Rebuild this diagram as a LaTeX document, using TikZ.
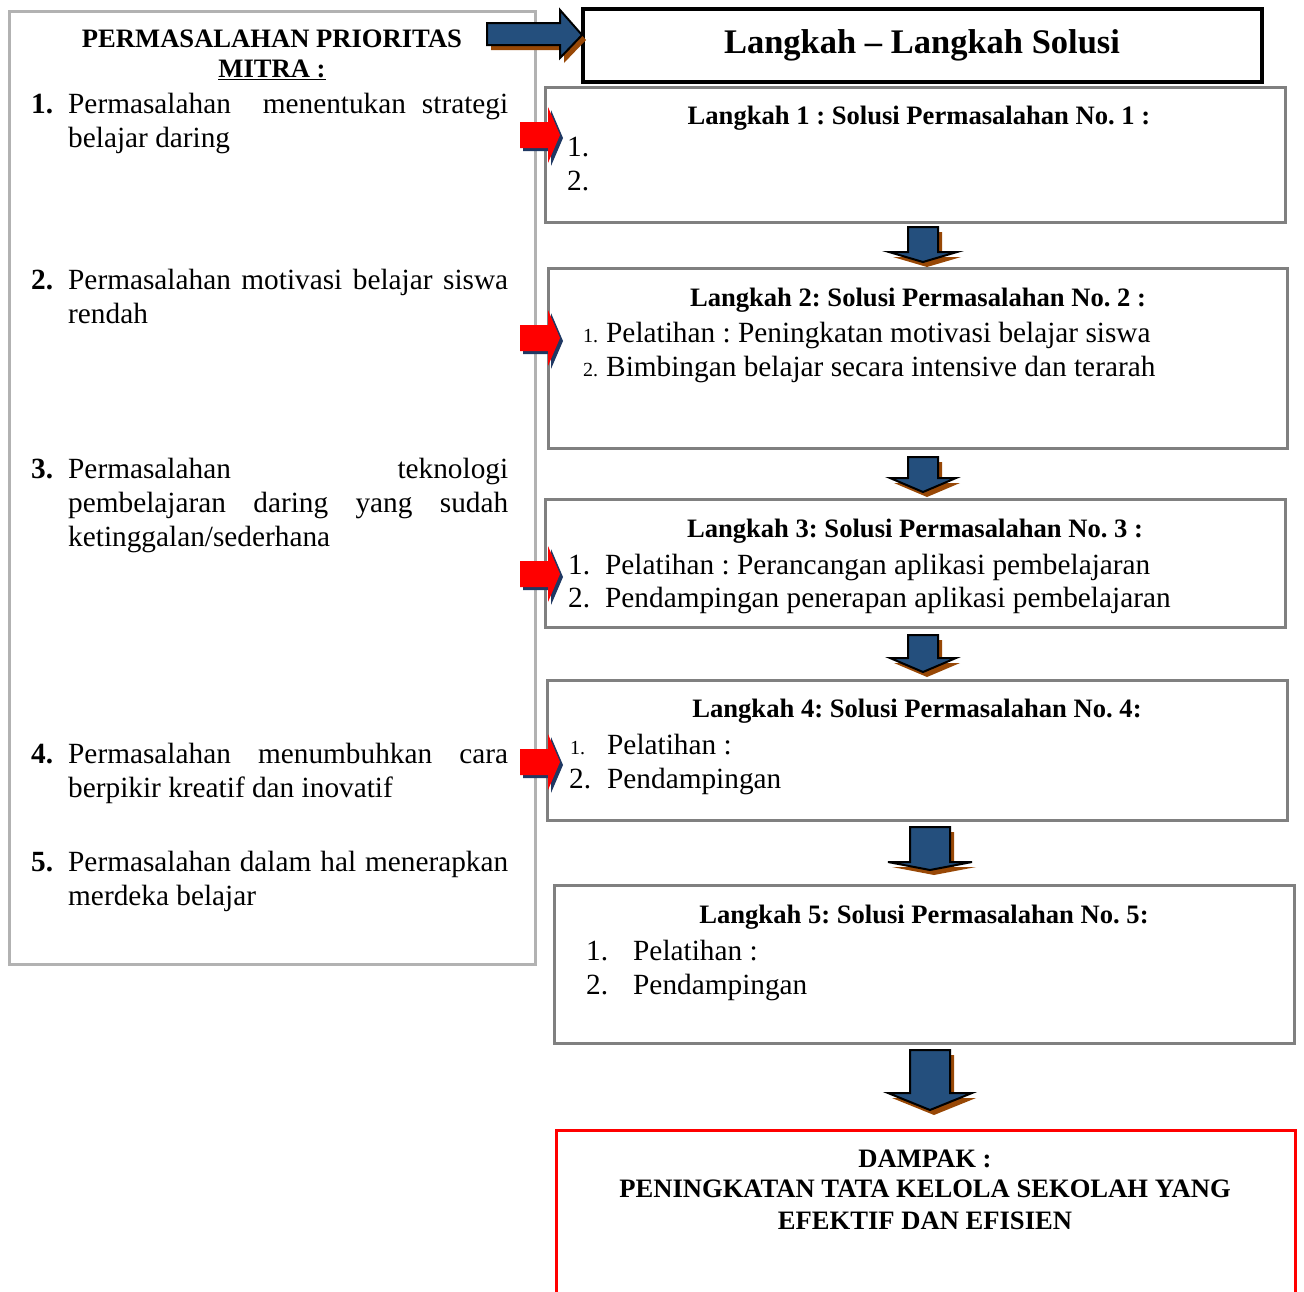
\documentclass[tikz,border=0pt]{standalone}
\usepackage{fontspec}
\setmainfont{Liberation Serif}
\frenchspacing
\definecolor{arrowblue}{RGB}{36,79,125}
\definecolor{shadowbrown}{RGB}{152,72,6}
\definecolor{shadowblue}{RGB}{31,56,99}
\definecolor{framegray}{RGB}{128,128,128}
\definecolor{lightframe}{RGB}{178,178,178}

\begin{document}
\begin{tikzpicture}[x=1pt, y=-1pt,
    leftbox/.style={draw=lightframe, line width=3pt, anchor=north west, inner sep=0pt, outer sep=0pt},
    solbox/.style={draw=framegray, line width=3pt, anchor=north west, inner sep=0pt, outer sep=0pt},
    headbox/.style={draw=black, line width=3.5pt, anchor=north west, inner sep=0pt, outer sep=0pt},
    body/.style={inner sep=0pt, anchor=base west, font=\fontsize{29.3}{34}\selectfont},
    numb/.style={inner sep=0pt, anchor=base west, font=\fontsize{29.3}{34}\selectfont\bfseries},
    boxtitle/.style={inner sep=0pt, anchor=base, font=\fontsize{26.6}{30.6}\selectfont\bfseries}]
    \useasboundingbox (0,0) rectangle (1304,1291);

    % Priority problems
    \node[leftbox, minimum width=526, minimum height=953] (masalah) at (9,11) {};
    \node[boxtitle] (mtitle1) at (272,47) {PERMASALAHAN PRIORITAS};
    \node[boxtitle] (mtitle2) at (272,77) {\underline{MITRA :}};

    \node[numb] (n1) at (31,113) {1.};
    \node[body, text width=440, align=justify] (p1) at (68,113) {Permasalahan \ menentukan strategi \linebreak belajar daring};
    \node[numb] (n2) at (31,289) {2.};
    \node[body, text width=440, align=justify] (p2) at (68,289) {Permasalahan motivasi belajar siswa \linebreak rendah};
    \node[numb] (n3) at (31,478) {3.};
    \node[body, text width=440, align=justify] (p3) at (68,478) {Permasalahan \hfill teknologi \linebreak pembelajaran daring yang sudah \linebreak ketinggalan/sederhana};
    \node[numb] (n4) at (31,763) {4.};
    \node[body, text width=440, align=justify] (p4) at (68,763) {Permasalahan menumbuhkan cara \linebreak berpikir kreatif dan inovatif};
    \node[numb] (n5) at (31,871) {5.};
    \node[body, text width=440, align=justify] (p5) at (68,871) {Permasalahan dalam hal menerapkan \linebreak merdeka belajar};

    % Solution steps
    \node[headbox, minimum width=679, minimum height=73] (judul) at (583,9) {};
    \node[inner sep=0pt, anchor=base, font=\fontsize{34.5}{40}\selectfont\bfseries] (judultxt) at (922,53) {Langkah -- Langkah Solusi};

    \node[solbox, minimum width=740, minimum height=135] (box1) at (545,87) {};
    \node[boxtitle] (t1) at (919,124) {Langkah 1 : Solusi Permasalahan No. 1 :};
    \node[body] (s1a) at (567,156) {1.};
    \node[body] (s1b) at (567,190) {2.};

    \node[solbox, minimum width=739, minimum height=180] (box2) at (548,268) {};
    \node[boxtitle] (t2) at (918,306) {Langkah 2: Solusi Permasalahan No. 2 :};
    \node[body] (s2a) at (583,342) {\makebox[23pt][l]{\fontsize{20}{24}\selectfont 1.}Pelatihan : Peningkatan motivasi belajar siswa};
    \node[body] (s2b) at (583,376) {\makebox[23pt][l]{\fontsize{20}{24}\selectfont 2.}Bimbingan belajar secara intensive dan terarah};

    \node[solbox, minimum width=740, minimum height=128] (box3) at (545,499) {};
    \node[boxtitle] (t3) at (915,537) {Langkah 3: Solusi Permasalahan No. 3 :};
    \node[body] (s3a) at (568,574) {\makebox[37pt][l]{1.}Pelatihan : Perancangan aplikasi pembelajaran};
    \node[body] (s3b) at (568,607) {\makebox[37pt][l]{2.}Pendampingan penerapan aplikasi pembelajaran};

    \node[solbox, minimum width=740, minimum height=140] (box4) at (547,680) {};
    \node[boxtitle] (t4) at (917,717) {Langkah 4: Solusi Permasalahan No. 4:};
    \node[body] (s4a) at (570,754) {\makebox[37pt][l]{\fontsize{20}{24}\selectfont 1.}Pelatihan :};
    \node[body] (s4b) at (569,788) {\makebox[38pt][l]{2.}Pendampingan};

    \node[solbox, minimum width=740, minimum height=158] (box5) at (554,885) {};
    \node[boxtitle] (t5) at (924,923) {Langkah 5: Solusi Permasalahan No. 5:};
    \node[body] (s5a) at (586,960) {\makebox[47pt][l]{1.}Pelatihan :};
    \node[body] (s5b) at (586,994) {\makebox[47pt][l]{2.}Pendampingan};

    % Impact
    \draw[red, line width=3pt] (556,1300) |- (1295,1130) -- (1295,1300);
    \node[boxtitle] (d1) at (925,1167) {DAMPAK :};
    \node[boxtitle] (d2) at (925,1197) {PENINGKATAN TATA KELOLA SEKOLAH YANG};
    \node[boxtitle] (d3) at (925,1229) {EFEKTIF DAN EFISIEN};

    % Block arrow to the heading
    \fill[shadowbrown] (491,28) -- (564,28) -- (564,15) -- (586,40) -- (564,63) -- (564,50) -- (491,50) -- cycle;
    \draw[fill=arrowblue, line width=2pt, line join=miter] (487,23) -- (560,23) -- (560,10) -- (582,35) -- (560,58) -- (560,45) -- (487,45) -- cycle;

    % Red arrows into the steps
    \foreach \y in {135,338,574,762} {
        \fill[shadowblue] (523,\y-10) -- (551,\y-10) -- (551,\y-25) -- (563,\y+3) -- (551,\y+31) -- (551,\y+16) -- (523,\y+16) -- cycle;
        \fill[red] (520,\y-13) -- (548,\y-13) -- (548,\y-28) -- (560,\y) -- (548,\y+28) -- (548,\y+13) -- (520,\y+13) -- cycle;
    }

    % Down arrows between the steps
    \foreach \x/\yt/\yh/\yp/\sw/\hw in {923/227/252/262/15/34, 923/457/478/492/15/33, 923/635/658/672/15/33, 930/827/862/870/20/42, 930/1050/1093/1110/20/42} {
        \fill[shadowbrown] (\x-\sw+4,\yt+5) -- (\x+\sw+4,\yt+5) -- (\x+\sw+4,\yh+5) -- (\x+\hw+4,\yh+5) -- (\x+4,\yp+5) -- (\x-\hw+4,\yh+5) -- (\x-\sw+4,\yh+5) -- cycle;
        \draw[fill=arrowblue, line width=2pt, line join=miter] (\x-\sw,\yt) -- (\x+\sw,\yt) -- (\x+\sw,\yh) -- (\x+\hw,\yh) -- (\x,\yp) -- (\x-\hw,\yh) -- (\x-\sw,\yh) -- cycle;
    }
\end{tikzpicture}
\end{document}
